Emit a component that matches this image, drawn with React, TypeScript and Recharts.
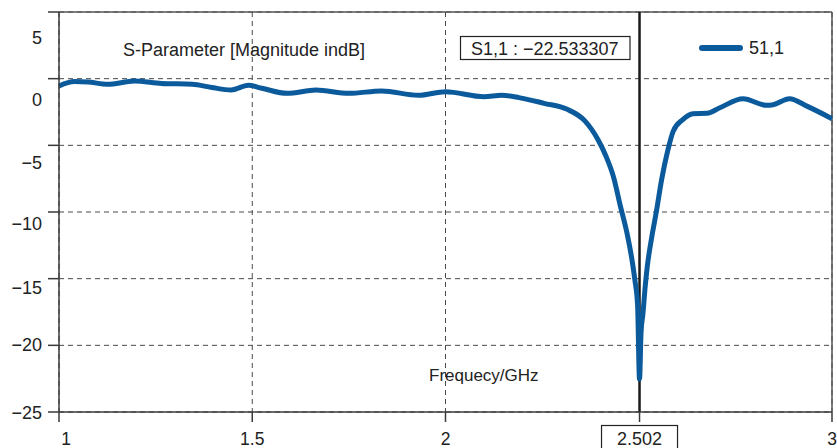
import React from 'react';
import { LineChart, Line, XAxis, YAxis, CartesianGrid, ReferenceLine } from 'recharts';

// S11 sweep, frequency in GHz and magnitude in dB
const freqGHz = [
  1.0, 1.04, 1.075, 1.125, 1.195, 1.265, 1.345, 1.395, 1.445, 1.49,
  1.525, 1.59, 1.665, 1.75, 1.835, 1.93, 2.0, 2.1, 2.145, 2.19,
  2.255, 2.315, 2.36, 2.395, 2.415, 2.435, 2.452, 2.469, 2.482, 2.49,
  2.497, 2.502, 2.506, 2.511, 2.516, 2.522, 2.533, 2.546, 2.559, 2.575,
  2.589, 2.614, 2.64, 2.677, 2.71, 2.77, 2.83, 2.848, 2.89, 2.935, 3.0,
];
const s11dB = [
  -0.55, -0.22, -0.25, -0.42, -0.18, -0.36, -0.42, -0.66, -0.85, -0.5,
  -0.72, -1.1, -0.85, -1.1, -0.92, -1.25, -0.98, -1.35, -1.25, -1.42,
  -1.85, -2.3, -3.15, -4.6, -5.8, -7.4, -9.5, -11.5, -13.5, -15.1,
  -17.0, -22.533307, -19.0, -17.6, -15.8, -14.1, -12.0, -9.9, -7.6, -5.4,
  -3.95, -3.07, -2.63, -2.6, -2.18, -1.51, -2.0, -1.95, -1.5, -2.06, -3.0,
];

const xTicks = [1, 1.5, 2, 2.502, 3];
const yTicks = [5, 0, -5, -10, -15, -20, -25];

const markerFreq = 2.502;
const markerValue = -22.533307;

const data = freqGHz.map((f, i) => ({ f, s11: s11dB[i] }));

const FONT = '"Liberation Sans", Arial, sans-serif';
const INK = '#222';
const BLUE = '#0b5a9c';

// the y labels sit a little below their ticks on the upper part of the axis
const yLabelShift: Record<number, number> = { 5: 25.5, 0: 21, '-5': 17, '-10': 11, '-15': 9, '-20': -1, '-25': 0 };

const fmt = (v: number) => (v < 0 ? '\u2212' + Math.abs(v) : String(v));

const YTick = (props: any) => {
  const { x, y, payload } = props;
  const v = payload.value as number;
  const dy = (yLabelShift[v] ?? 0) + 6.5;
  return (
    <text x={x - 4} y={y + dy} textAnchor="end" fontSize={18} fontFamily={FONT} fill={INK}>
      {fmt(v)}
    </text>
  );
};

const XTick = (props: any) => {
  const { x, y, payload } = props;
  const v = payload.value as number;
  if (v === markerFreq) {
    return (
      <g>
        <rect x={x - 38} y={y + 1.5} width={76} height={30} fill="#fff" stroke={INK} strokeWidth={1.2} />
        <text x={x} y={y + 20.5} textAnchor="middle" fontSize={18} fontFamily={FONT} fill={INK}>
          {markerFreq.toFixed(3)}
        </text>
      </g>
    );
  }
  const shift = v === 1 ? 7 : 0;
  return (
    <text x={x + shift} y={y + 20.5} textAnchor="middle" fontSize={17.5} fontFamily={FONT} fill={INK}>
      {String(v)}
    </text>
  );
};

export default function App() {
  return (
    <div style={{ position: 'absolute', left: 0, top: 0, width: 837, height: 448, background: '#fff' }}>
      <LineChart width={837} height={448} data={data} margin={{ top: 12, right: 5, bottom: 0, left: 0 }}>
        <CartesianGrid stroke="#4a4a4a" strokeDasharray="5 4" strokeWidth={1} />
        <XAxis
          dataKey="f"
          type="number"
          domain={[1, 3]}
          ticks={xTicks}
          interval={0}
          height={36}
          tickSize={10}
          tickMargin={2}
          stroke="#3a3a3a"
          strokeWidth={1.5}
          tick={<XTick />}
        />
        <YAxis
          type="number"
          domain={[-25, 5]}
          ticks={yTicks}
          interval={0}
          width={59}
          tickSize={11}
          tickMargin={2}
          stroke="#3a3a3a"
          strokeWidth={1.5}
          tick={<YTick />}
        />
        <ReferenceLine y={5} stroke="#555" strokeWidth={1.5} />
        <ReferenceLine x={3} stroke="#555" strokeWidth={1.5} />
        <ReferenceLine x={markerFreq} stroke="#1a1a1a" strokeWidth={2.5} />
        <Line
          type="monotone"
          dataKey="s11"
          stroke={BLUE}
          strokeWidth={5}
          strokeLinejoin="round"
          dot={false}
          isAnimationActive={false}
        />
      </LineChart>
      <svg
        width={837}
        height={448}
        style={{ position: 'absolute', left: 0, top: 0, pointerEvents: 'none' }}
        fontFamily={FONT}
      >
        <text x={123} y={56} fontSize={18} fill={INK}>
          S-Parameter [Magnitude indB]
        </text>
        <rect x={460.5} y={36.5} width={169.5} height={23} fill="#fff" stroke={INK} strokeWidth={1.2} />
        <text x={471} y={55} fontSize={18} fill={INK}>
          {'S1,1 : \u2212' + Math.abs(markerValue).toFixed(6)}
        </text>
        <line x1={702} y1={48} x2={740} y2={48} stroke={BLUE} strokeWidth={6} strokeLinecap="round" />
        <text x={749} y={54} fontSize={18} fill={INK}>
          51,1
        </text>
        <text x={429} y={381} fontSize={17} fill={INK}>
          Frequecy/GHz
        </text>
      </svg>
    </div>
  );
}
